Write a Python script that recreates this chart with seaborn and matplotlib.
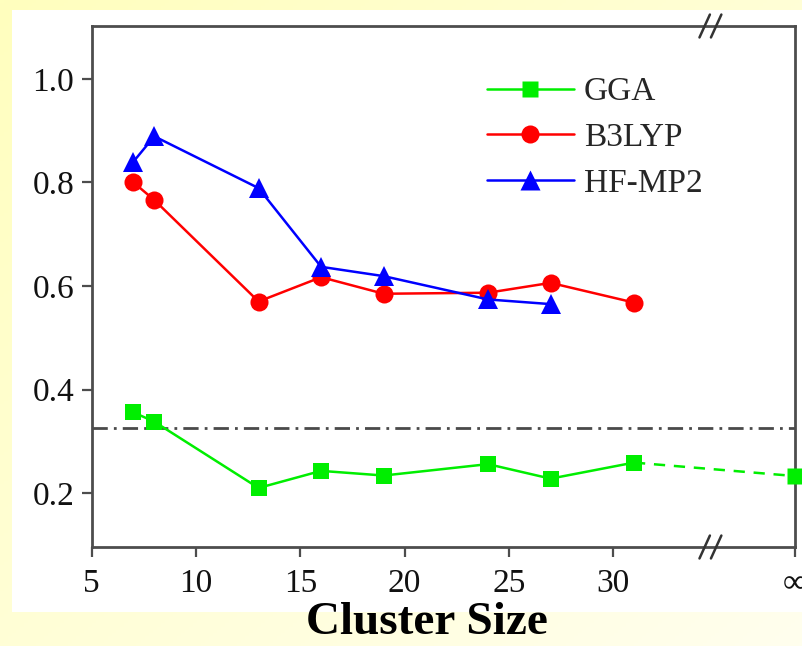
import numpy as np
import pandas as pd
import matplotlib
matplotlib.use("Agg")
import matplotlib.pyplot as plt
import seaborn as sns
from matplotlib.patches import Rectangle
from matplotlib.lines import Line2D
from matplotlib.transforms import blended_transform_factory

# ---- data ----
sizes_gga = [7, 8, 13, 16, 19, 24, 27, 31]
gga = [0.356, 0.338, 0.210, 0.243, 0.234, 0.256, 0.228, 0.259]
gga_inf = 0.233
sizes_b3lyp = [7, 8, 13, 16, 19, 24, 27, 31]
b3lyp = [0.800, 0.766, 0.570, 0.617, 0.585, 0.587, 0.606, 0.568]
sizes_hf = [7, 8, 13, 16, 19, 24, 27]
hfmp2 = [0.840, 0.889, 0.789, 0.637, 0.619, 0.574, 0.565]
ref_level = 0.326
xtick_vals = [5, 10, 15, 20, 25, 30]
xtick_labels = ["5", "10", "15", "20", "25", "30"]
ytick_vals = [0.2, 0.4, 0.6, 0.8, 1.0]
ytick_labels = ["0.2", "0.4", "0.6", "0.8", "1.0"]
inf_pos = 38.72      # position where the "infinity" point sits
break_pos = 34.64    # axis break position
series_names = ["GGA", "B3LYP", "HF-MP2"]

sns.set_theme(style="white")
plt.rcParams["font.family"] = ["Liberation Serif", "DejaVu Serif"]

W, H = 803, 646
fig = plt.figure(figsize=(W / 100, H / 100), dpi=100)

# background gradient + white panel
bg = fig.add_axes([0, 0, 1, 1], zorder=-10)
gx = np.linspace(0, 1, 200)
gy = np.linspace(0, 1, 200)
GX, GY = np.meshgrid(gx, gy)
t = np.clip((GX + GY) / 2, 0, 1)
c0 = np.array([255, 255, 190]) / 255
c1 = np.array([255, 254, 238]) / 255
img = c0[None, None, :] * (1 - t[..., None]) + c1[None, None, :] * t[..., None]
bg.imshow(img, extent=[0, 1, 0, 1], aspect="auto", origin="upper")
bg.add_patch(Rectangle((12 / W, 1 - 612 / H), (W - 12) / W, (612 - 10) / H,
                       transform=bg.transAxes, facecolor="white", edgecolor="none"))
bg.set_xlim(0, 1); bg.set_ylim(0, 1)
bg.axis("off")

ax = fig.add_axes([91.7 / W, 1 - 547 / H, (795 - 91.7) / W, (547 - 26) / H])
ax.set_facecolor("none")

green = "#00ee00"
red = "#ff0000"
blue = "#0000ff"
lw = 1.8

df_gga = pd.DataFrame({"x": sizes_gga, "y": gga})
df_b3 = pd.DataFrame({"x": sizes_b3lyp, "y": b3lyp})
df_hf = pd.DataFrame({"x": sizes_hf, "y": hfmp2})
df_inf = pd.DataFrame({"x": [sizes_gga[-1], inf_pos], "y": [gga[-1], gga_inf]})

# reference dash-dot line
ax.axhline(ref_level, color="#4a4a4a", lw=2.0, dashes=[5.5, 2.2, 1, 2.2], zorder=1)

sns.lineplot(data=df_inf, x="x", y="y", ax=ax, color=green, lw=lw,
             dashes=False, linestyle=(0, (4.5, 3.5)), zorder=2)
ax.plot([inf_pos], [gga_inf], marker="s", ms=11.5, color=green, mec="none",
        clip_on=False, zorder=5)
sns.lineplot(data=df_gga, x="x", y="y", ax=ax, color=green, lw=lw, marker="s",
             markersize=11.5, markeredgewidth=0, zorder=3)
sns.lineplot(data=df_b3, x="x", y="y", ax=ax, color=red, lw=lw, marker="o",
             markersize=13, markeredgewidth=0, zorder=3)
sns.lineplot(data=df_hf, x="x", y="y", ax=ax, color=blue, lw=lw, marker="^",
             markersize=15, markeredgewidth=0, zorder=4)

ax.set_xlim(5, inf_pos)
ax.set_ylim(0.096, 1.102)
ax.set_xticks(xtick_vals + [inf_pos])
ax.set_xticklabels(xtick_labels + ["\u221e"])
ax.set_yticks(ytick_vals)
ax.set_yticklabels(ytick_labels)
ax.set_xlabel("")
ax.set_ylabel("")

spine_c = "#4d4d4d"
for s in ax.spines.values():
    s.set_visible(True)
    s.set_color(spine_c)
    s.set_linewidth(2.0)
ax.tick_params(axis="both", direction="out", length=7.5, width=1.6, color=spine_c,
               labelsize=24, labelcolor="#111111")
ax.tick_params(axis="x", pad=8, bottom=True)
ax.tick_params(axis="y", pad=5, left=True)

# axis break marks
trans = blended_transform_factory(ax.transData, ax.transAxes)
for yb in (0.0, 1.0):
    for dx in (-0.25, 0.3):
        ax.plot([break_pos + dx - 0.25, break_pos + dx + 0.25],
                [yb - 0.022, yb + 0.022], transform=trans, color="#333333",
                lw=1.8, clip_on=False, zorder=6)

handles = [
    Line2D([], [], color=green, lw=lw, marker="s", ms=11.5, mec="none"),
    Line2D([], [], color=red, lw=lw, marker="o", ms=13, mec="none"),
    Line2D([], [], color=blue, lw=lw, marker="^", ms=15, mec="none"),
]
ax.legend(handles, series_names, loc="upper left",
          bbox_to_anchor=(487 / W, 1 - 77 / H), bbox_transform=fig.transFigure,
          frameon=False, fontsize=24, handlelength=2.6, handletextpad=0.3,
          labelspacing=0.45, borderpad=0, borderaxespad=0)

fig.text(427 / W, 2 / H, "Cluster Size", ha="center", va="bottom",
         fontsize=34, fontweight="bold", color="black")

fig.savefig("out.png", dpi=100)
